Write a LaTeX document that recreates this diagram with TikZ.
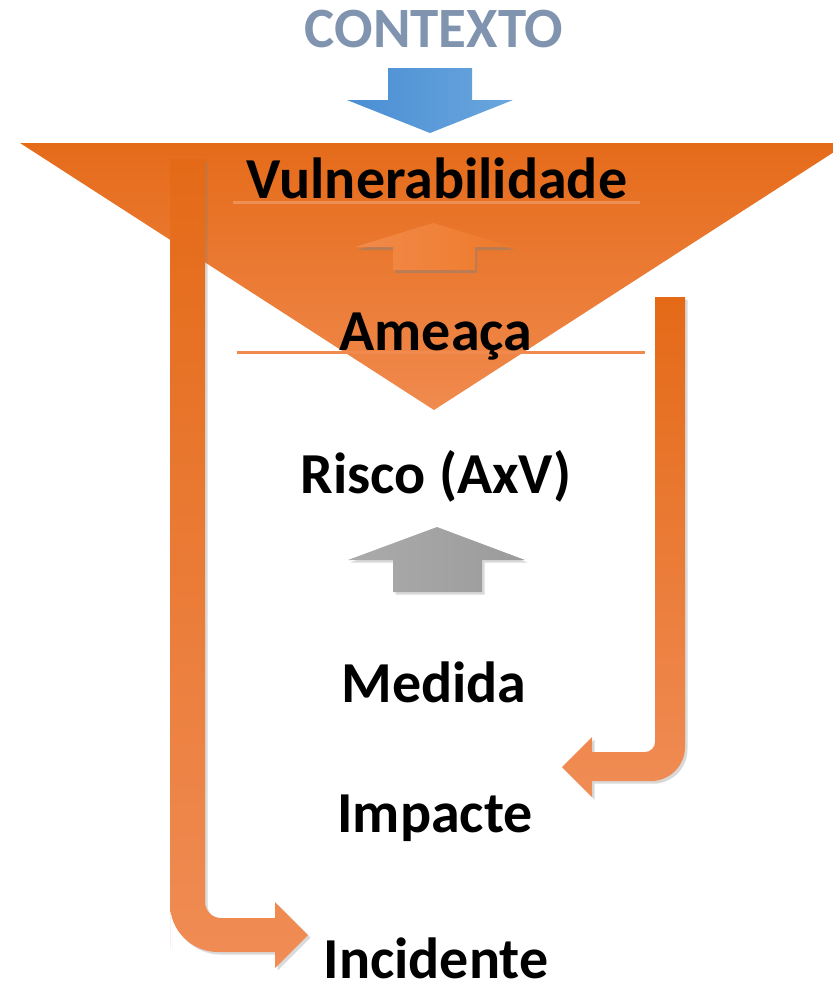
\documentclass[tikz,border=0pt]{standalone}
\usepackage{fontspec}
\setmainfont{Carlito}
\usetikzlibrary{shadows}
\definecolor{orA}{HTML}{E56B1A}
\definecolor{orB}{HTML}{F08A4E}
\definecolor{arA}{HTML}{E46A17}
\definecolor{arB}{HTML}{F08C55}
\definecolor{blA}{HTML}{4A8ED3}
\definecolor{blB}{HTML}{6AA6DE}
\definecolor{ctx}{HTML}{8094AF}
\definecolor{grA}{HTML}{ABABAB}
\definecolor{grB}{HTML}{9B9B9B}
\definecolor{saA}{HTML}{F28A4A}
\definecolor{saB}{HTML}{EE7A2A}
\tikzset{
  lbl/.style={font=\bfseries\fontsize{58}{58}\selectfont, text=black, anchor=base, inner sep=0pt},
  shd/.style={drop shadow={opacity=0.3, shadow xshift=2.5pt, shadow yshift=-2.5pt}},
}
\begin{document}
\begin{tikzpicture}[x=1pt,y=-1pt]
\useasboundingbox (0,0) rectangle (833,989);
\begin{scope}
\clip (0,0) rectangle (833,989);
% triangle
\shade[top color=orA, bottom color=orB] (20,143) -- (848,143) -- (434,410) -- cycle;
\end{scope}
% left bent arrow
\path[shd, top color=arA, bottom color=arB]
  (170,159) -- (205,159) [rounded corners=16pt] -- (205,918) -- (250,918) [sharp corners] -- (275,918)
  -- (275,902) -- (308,935) -- (275,968) -- (275,952) [rounded corners=48pt] -- (170,952) -- (170,900) [sharp corners] -- cycle;
% right bent arrow
\path[shd, top color=arA, bottom color=arB]
  (655,297) -- (685,297) [rounded corners=34pt] -- (685,781) -- (630,781) [sharp corners] -- (592,781)
  -- (592,797) -- (562,767) -- (592,737) -- (592,752) [rounded corners=10pt] -- (655,752) -- (655,720) [sharp corners] -- cycle;
% lines
\draw[color=orB!85!white, line width=3pt, opacity=0.7] (233,202) -- (640,202);
\draw[color=orB, line width=3pt] (237,352) -- (645,352);
% blue arrow
\path[left color=blA, right color=blB] (388,68) -- (472,68) -- (472,100) -- (513,100) -- (430,133) -- (347,100) -- (388,100) -- cycle;
% small orange arrow
\path[drop shadow={opacity=0.45, shadow xshift=2pt, shadow yshift=-3pt}, left color=saA, right color=saB] (393,270) -- (475,270) -- (475,247) -- (513,247) -- (433,223) -- (355,247) -- (393,247) -- cycle;
% grey arrow
\path[shd, left color=grA, right color=grB] (393,592) -- (482,592) -- (482,560) -- (525,560) -- (437,527) -- (348,560) -- (393,560) -- cycle;
% texts
\node[lbl, text=ctx, font=\bfseries\fontsize{57}{57}\selectfont] (ctx) at (434,47) {CONTEXTO};
\node[lbl] (vul) at (437,198) {Vulnerabilidade};
\node[lbl] (ame) at (436,350) {Ameaça};
\node[lbl] (ris) at (436,493) {Risco (AxV)};
\node[lbl] (med) at (434,702) {Medida};
\node[lbl] (imp) at (435,832) {Impacte};
\node[lbl, text depth=0pt] (inc) at (436,978) {Incidente};
\end{tikzpicture}
\end{document}
